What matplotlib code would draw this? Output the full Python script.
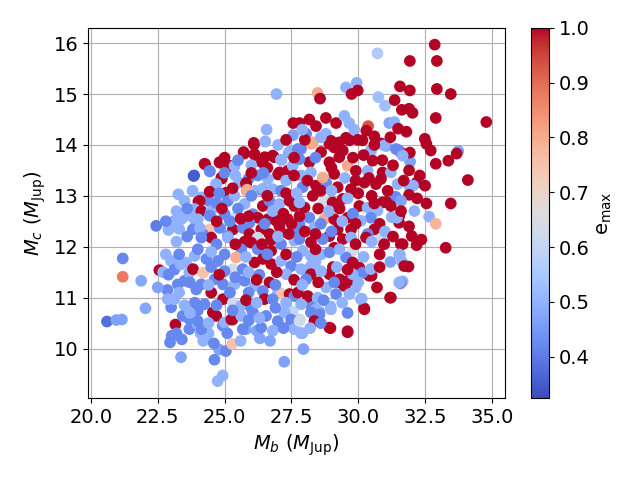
import matplotlib
matplotlib.use("Agg")
import matplotlib.pyplot as plt

# (M_b, M_c, e_max), grouped by region
outer_top = [
    (26.94, 15.0, 0.5), (26.57, 14.30, 0.5), (26.5, 14.06, 0.6), (27.57, 14.43, 1), (27.56, 14.19, 0.47),
    (26.1, 14.01, 1), (25.73, 13.83, 1), (26.13, 13.80, 1), (26.5, 13.76, 1), (26.85, 13.76, 1),
    (27.14, 13.69, 0.58), (27.41, 13.85, 0.42), (24.27, 13.62, 1), (24.83, 13.65, 1), (25.18, 13.59, 1),
    (25.36, 13.57, 0.5), (24.45, 13.48, 0.42), (23.84, 13.39, 0.35), (24.9, 13.34, 1), (24.68, 13.23, 0.5),
    (25.55, 13.26, 0.5), (25.8, 13.24, 1), (25.9, 13.34, 0.42), (23.27, 13.03, 0.5), (24.45, 13.08, 1),
    (24.02, 12.89, 1), (24.12, 12.97, 0.5), (24.4, 12.90, 0.42), (25.05, 13.06, 1), (25.82, 13.10, 0.8),
    (26.13, 13.10, 0.5), (26.42, 13.11, 0.42), (27.0, 13.42, 1),
    (32.86, 15.97, 1), (30.72, 15.80, 0.56), (31.93, 15.65, 1), (32.94, 15.65, 1), (29.94, 15.22, 0.5),
    (29.54, 15.13, 0.5), (28.48, 15.02, 0.8), (28.57, 14.91, 1), (29.75, 15.0, 1), (29.98, 15.07, 1),
    (31.56, 15.15, 1), (31.93, 15.07, 1), (32.94, 15.10, 1), (33.46, 15.0, 1), (30.75, 14.94, 0.53),
    (31.0, 14.77, 0.53), (31.36, 14.88, 1), (31.63, 14.69, 1), (31.9, 14.71, 1), (32.03, 14.63, 1),
    (32.9, 14.53, 1), (34.79, 14.45, 1), (31.16, 14.43, 0.47), (31.35, 14.45, 0.5), (31.49, 14.32, 1),
    (31.8, 14.26, 1), (30.37, 14.37, 0.93), (30.3, 14.28, 1), (30.6, 14.17, 1), (30.85, 14.03, 1),
    (31.05, 13.98, 0.47), (32.49, 14.12, 1), (32.55, 14.02, 1), (32.71, 13.89, 1), (33.74, 13.88, 0.47),
    (33.68, 13.83, 1), (33.37, 13.69, 1), (32.9, 13.63, 1), (31.94, 13.67, 0.47), (31.6, 13.85, 1),
    (31.93, 13.85, 1), (31.5, 13.9, 0.42), (30.5, 13.88, 0.63), (34.1, 13.31, 1), (32.18, 13.26, 1),
    (31.9, 13.2, 0.5), (32.05, 13.2, 0.5), (32.55, 12.85, 1), (33.46, 12.85, 1), (31.9, 13.02, 1),
    (31.4, 12.98, 0.42), (31.05, 12.88, 1),
    (28.17, 14.5, 1), (28.79, 14.53, 1), (27.8, 14.43, 1), (28.42, 14.37, 1), (29.17, 14.43, 1),
    (29.48, 14.57, 0.5), (29.66, 14.43, 0.5), (29.85, 14.3, 0.5), (28.05, 14.22, 0.42), (28.79, 14.22, 0.5),
    (28.98, 14.08, 1), (29.54, 14.14, 1), (29.98, 14.1, 1), (28.24, 14.02, 0.8),
]

outer_bottom = [
    (32.65, 12.59, 0.5), (32.9, 12.45, 0.78), (32.0, 12.21, 1), (32.36, 12.14, 1), (32.18, 12.03, 1),
    (33.27, 11.98, 1), (31.66, 12.05, 1), (30.95, 12.06, 1), (30.87, 12.16, 0.63), (31.56, 11.84, 0.5),
    (31.64, 11.7, 0.5), (31.88, 11.61, 1), (31.66, 11.32, 0.5), (31.58, 11.28, 0.42), (31.19, 11.0, 1),
    (30.22, 10.79, 1), (30.13, 10.98, 0.5), (29.6, 10.32, 1), (28.96, 10.40, 1), (27.95, 9.99, 0.47),
    (27.9, 10.30, 0.47), (27.82, 10.57, 0.63), (28.4, 10.77, 0.42), (28.25, 10.83, 0.42), (28.55, 10.72, 0.47),
    (28.96, 10.83, 0.5), (28.11, 11.02, 1), (30.5, 11.43, 1), (30.47, 11.55, 1), (30.3, 11.48, 0.42),
    (29.95, 11.47, 0.5), (29.9, 11.2, 0.5), (29.6, 11.33, 1), (29.3, 11.36, 1), (29.05, 11.6, 1),
    (31.53, 12.47, 1), (31.53, 12.6, 1), (31.25, 12.58, 0.5), (31.45, 12.57, 0.5),
    (22.44, 12.41, 0.4), (22.9, 12.33, 0.5), (23.1, 12.5, 0.5), (23.4, 12.55, 0.5), (21.19, 11.77, 0.42),
    (21.19, 11.41, 0.88), (21.88, 11.33, 0.48), (22.04, 10.79, 0.48), (20.6, 10.53, 0.38), (20.95, 10.56, 0.47),
    (21.16, 10.57, 0.47), (22.56, 11.54, 1), (23.0, 11.72, 0.5), (23.12, 11.55, 0.42), (22.7, 11.5, 0.5),
    (22.86, 11.15, 0.42), (23.16, 10.47, 1), (22.96, 10.12, 0.42), (23.02, 10.25, 0.42), (23.37, 9.83, 0.47),
    (23.4, 10.18, 0.42), (24.62, 9.78, 0.42), (24.74, 9.36, 0.5), (24.93, 9.47, 0.5), (24.8, 9.98, 0.47),
    (25.05, 9.95, 0.42), (25.28, 10.09, 0.75), (27.23, 9.74, 0.47), (26.32, 10.2, 0.47), (25.8, 10.38, 0.47),
    (26.2, 10.35, 0.47), (25.3, 10.57, 1), (27.45, 10.45, 0.47), (27.55, 10.72, 0.6),
    (23.0, 10.81, 0.42), (23.12, 10.97, 0.5), (23.43, 10.64, 0.42), (23.68, 10.58, 0.42), (23.25, 11.26, 0.42),
    (23.5, 11.33, 0.42), (23.68, 11.49, 0.5), (23.56, 11.69, 0.5), (23.35, 11.65, 0.5), (22.87, 10.97, 0.5),
    (23.93, 12.47, 0.5), (23.81, 12.34, 0.42), (24.18, 12.21, 0.42), (23.75, 12.6, 0.5), (23.68, 10.38, 0.42),
    (24.1, 10.3, 0.5), (24.3, 10.25, 0.5), (24.4, 10.3, 0.5), (23.99, 10.48, 0.5), (24.93, 10.45, 0.42),
]

core_top = [
    (26.09, 14.04, 1), (26.52, 14.07, 0.5), (25.71, 13.86, 1), (26.12, 13.82, 1), (26.39, 13.66, 1),
    (26.8, 13.79, 1), (27.11, 13.71, 0.5), (27.43, 13.87, 0.5), (27.74, 13.92, 0.42), (24.25, 13.63, 1),
    (24.81, 13.66, 1), (25.19, 13.59, 1), (25.37, 13.59, 0.5), (23.86, 13.4, 0.35), (24.44, 13.49, 0.42),
    (24.88, 13.36, 1), (24.69, 13.23, 0.5), (25.81, 13.25, 1), (25.84, 13.12, 0.8), (26.24, 13.4, 0.42),
    (26.62, 13.33, 0.5), (27.05, 13.46, 1), (27.36, 13.49, 1), (27.55, 13.59, 0.5),
    (26.43, 13.14, 0.5), (26.8, 13.13, 0.5), (27.11, 13.1, 0.42), (24.44, 13.08, 1), (24.07, 12.9, 1),
    (23.88, 12.74, 0.5), (24.13, 12.7, 1), (24.5, 12.7, 0.5), (24.69, 12.86, 0.42), (25.12, 12.9, 0.42),
    (25.37, 13.0, 0.5), (25.75, 12.84, 0.5), (26.06, 12.64, 0.42), (26.43, 12.8, 1), (26.68, 12.9, 0.42),
    (27.05, 12.84, 0.5), (27.43, 12.9, 1), (27.61, 12.8, 1), (26.24, 12.57, 1), (26.62, 12.54, 1),
    (26.93, 12.51, 1), (27.36, 12.54, 1), (25.37, 12.57, 0.63), (25.0, 12.64, 0.42), (24.44, 12.61, 0.42),
    (24.0, 12.54, 0.5), (24.44, 12.34, 0.75), (24.2, 12.24, 0.42), (24.82, 12.37, 0.42), (25.31, 12.34, 1),
    (25.68, 12.37, 0.42), (25.93, 12.47, 0.42), (26.37, 12.34, 1), (25.93, 12.25, 1), (26.68, 12.25, 1),
    (27.11, 12.28, 1), (27.61, 12.28, 0.42), (24.07, 12.37, 0.5), (25.12, 12.21, 0.42),
    (28.3, 14.05, 0.8), (27.86, 13.92, 0.42), (28.92, 14.02, 1), (29.29, 14.05, 1), (29.67, 14.09, 1),
    (30.16, 14.09, 1), (30.47, 13.89, 0.5), (30.97, 13.99, 0.5), (31.41, 13.92, 0.42), (31.66, 13.79, 0.5),
    (28.61, 13.86, 1), (28.17, 13.66, 1), (27.8, 13.72, 0.42), (28.92, 13.66, 1), (29.29, 13.76, 1),
    (29.6, 13.59, 0.8), (29.42, 13.89, 1), (29.91, 13.49, 1), (30.35, 13.49, 0.5), (30.54, 13.69, 1),
    (30.91, 13.46, 1), (31.22, 13.46, 0.5), (30.85, 13.33, 1), (30.23, 13.26, 1), (30.66, 13.23, 1),
    (31.47, 13.23, 0.5), (27.86, 13.4, 0.5), (28.23, 13.46, 0.5), (28.42, 13.2, 1), (28.8, 13.26, 0.42),
    (28.67, 13.36, 0.8), (29.1, 13.43, 1), (29.23, 13.17, 1), (29.73, 13.13, 1), (27.92, 13.17, 0.42),
    (28.3, 13.0, 1), (28.73, 12.9, 0.63), (29.04, 12.87, 1), (27.99, 12.77, 1), (27.8, 12.87, 0.5),
    (29.42, 12.94, 1), (30.04, 12.8, 1), (30.35, 12.77, 0.5), (30.91, 12.87, 1), (31.22, 12.8, 1),
    (30.72, 12.71, 0.5), (30.47, 12.57, 0.42), (28.17, 12.57, 0.42), (28.73, 12.54, 0.8), (29.1, 12.54, 1),
    (29.6, 12.57, 1), (30.1, 12.51, 0.5), (27.8, 12.44, 0.42), (28.36, 12.38, 0.5), (29.23, 12.34, 1),
    (29.73, 12.34, 1), (30.6, 12.34, 1), (30.35, 12.25, 0.42), (28.92, 12.21, 1), (30.91, 12.18, 0.63),
]

core_bottom = [
    (24.5, 12.18, 1), (24.13, 12.18, 0.42), (25.12, 12.18, 0.5), (26.24, 12.18, 0.63), (26.74, 12.13, 1),
    (25.75, 12.1, 1), (26.0, 12.08, 1), (25.62, 11.95, 0.42), (26.24, 11.95, 0.42), (26.74, 11.92, 1),
    (27.11, 12.05, 0.42), (27.61, 12.12, 0.5), (23.88, 11.82, 0.5), (23.82, 11.56, 1), (24.2, 11.49, 0.75),
    (24.32, 11.76, 0.42), (24.75, 11.72, 0.42), (25.31, 11.56, 0.63), (25.68, 11.56, 0.42), (26.12, 11.69, 1),
    (26.43, 11.76, 1), (26.74, 11.66, 1), (27.11, 11.72, 0.5), (27.49, 11.62, 0.42), (27.3, 11.46, 0.5),
    (25.43, 11.79, 0.8), (25.0, 11.52, 0.42), (24.63, 11.36, 0.42), (24.5, 11.1, 1), (24.13, 11.26, 0.42),
    (23.94, 11.16, 0.42), (24.94, 11.26, 0.42), (25.37, 11.26, 0.5), (25.75, 11.33, 0.42), (26.12, 11.23, 0.5),
    (26.68, 11.3, 1), (26.43, 11.13, 0.42), (27.0, 11.1, 0.5), (27.12, 11.07, 0.75), (27.43, 11.07, 1),
    (27.61, 11.03, 0.42), (23.88, 10.9, 0.42), (24.25, 10.87, 0.42), (24.94, 10.97, 1), (25.31, 10.9, 0.63),
    (25.62, 10.84, 0.5), (25.99, 10.8, 0.42), (26.49, 10.97, 1), (26.8, 10.97, 0.42), (24.56, 10.71, 1),
    (24.69, 10.64, 1), (24.0, 10.54, 0.42), (25.0, 10.51, 0.5), (25.25, 10.57, 1), (25.62, 10.64, 0.5),
    (26.06, 10.71, 0.42), (26.55, 10.64, 0.42), (26.99, 10.54, 0.42), (27.24, 10.71, 0.5), (27.49, 10.57, 0.42),
    (27.61, 10.38, 0.5), (25.68, 10.38, 0.42), (26.37, 10.41, 0.42), (24.13, 10.38, 0.42),
    (28.23, 12.09, 1), (27.8, 12.15, 0.42), (28.67, 12.15, 0.42), (29.42, 12.15, 1), (29.73, 12.18, 0.5),
    (30.29, 12.18, 1), (30.85, 12.15, 0.63), (30.97, 12.05, 1), (31.59, 12.05, 1), (29.79, 11.92, 0.63),
    (29.1, 11.98, 1), (28.61, 11.85, 0.5), (28.23, 11.82, 0.5), (27.92, 11.92, 0.5), (28.92, 11.89, 0.42),
    (29.54, 11.79, 0.42), (29.79, 11.69, 1), (30.04, 11.59, 1), (30.41, 11.43, 1), (30.16, 11.49, 0.42),
    (30.47, 11.56, 0.5), (29.79, 11.46, 0.5), (31.53, 11.85, 0.5), (31.72, 11.62, 1), (31.53, 11.3, 0.5),
    (28.23, 11.62, 0.5), (27.86, 11.56, 0.5), (28.23, 11.46, 1), (28.92, 11.46, 1), (29.29, 11.3, 1),
    (29.48, 11.23, 1), (28.61, 11.52, 0.5), (28.8, 11.2, 0.5), (29.17, 11.07, 0.42), (29.67, 11.07, 0.5),
    (28.05, 11.36, 0.42), (27.74, 11.1, 1), (28.11, 11.03, 1), (28.48, 11.0, 0.5), (30.1, 10.97, 0.5),
    (31.22, 11.0, 1), (30.23, 10.77, 1), (27.86, 10.87, 0.5), (28.42, 10.77, 0.5), (28.23, 10.71, 0.42),
    (28.55, 10.67, 0.42), (28.98, 10.77, 0.5), (27.8, 10.54, 0.63), (28.36, 10.54, 1), (28.92, 10.41, 1),
    (29.6, 10.34, 1), (27.86, 10.3, 0.5),
]

# points hidden under the overlap in the dense middle, estimated row by row
core_fill = [
    (27.0, 14.0, 0.5), (27.3, 14.1, 1), (28.0, 14.1, 1), (28.6, 14.15, 0.5), (29.1, 13.95, 1),
    (30.6, 14.0, 1), (31.2, 14.15, 1), (27.9, 14.3, 0.5),
    (25.0, 13.75, 1), (25.5, 13.7, 0.42), (26.0, 13.6, 0.5), (26.6, 13.55, 1), (27.6, 13.75, 1),
    (28.4, 13.75, 0.42), (29.0, 13.55, 1), (29.8, 13.75, 1), (30.2, 13.8, 1), (30.9, 13.7, 1),
    (31.3, 13.6, 1), (31.9, 13.5, 1), (32.3, 13.4, 1),
    (25.0, 13.45, 0.42), (25.4, 13.4, 0.5), (26.0, 13.45, 1), (26.45, 13.45, 0.42), (27.3, 13.3, 0.5),
    (27.6, 13.4, 1), (28.1, 13.3, 1), (29.5, 13.35, 0.5), (29.9, 13.3, 1), (30.4, 13.35, 1),
    (31.1, 13.1, 1), (31.7, 13.3, 1), (32.5, 13.2, 1),
    (23.5, 12.9, 0.5), (23.8, 13.1, 0.5), (24.8, 13.05, 0.42), (25.3, 13.15, 1), (26.0, 13.0, 0.42),
    (26.6, 13.0, 1), (27.3, 13.05, 1), (27.7, 13.05, 0.5), (28.6, 13.1, 1), (29.0, 13.1, 0.5),
    (29.6, 12.95, 0.5), (30.0, 13.05, 1), (30.5, 13.0, 1), (31.6, 12.9, 0.47), (32.2, 12.95, 1),
    (23.2, 12.7, 0.5), (23.6, 12.75, 0.42), (24.9, 12.75, 1), (25.5, 12.75, 0.42), (25.9, 12.6, 1),
    (26.8, 12.7, 0.5), (27.2, 12.65, 1), (27.8, 12.6, 1), (28.5, 12.75, 1), (28.9, 12.7, 0.5),
    (29.3, 12.75, 1), (29.8, 12.65, 0.42), (30.6, 12.85, 1), (31.6, 12.7, 1), (32.1, 12.7, 0.5),
    (22.8, 12.5, 0.42), (23.3, 12.35, 0.5), (24.7, 12.5, 1), (25.2, 12.5, 0.42), (25.6, 12.55, 1),
    (26.5, 12.45, 0.42), (27.05, 12.4, 1), (27.5, 12.45, 1), (28.0, 12.3, 1), (28.6, 12.45, 0.42),
    (29.4, 12.5, 0.5), (29.9, 12.45, 1), (30.8, 12.45, 1), (31.0, 12.3, 0.5), (31.9, 12.4, 1),
    (23.2, 12.1, 0.5), (23.6, 12.2, 0.42), (24.7, 12.05, 0.42), (25.4, 12.05, 1), (26.4, 12.05, 1),
    (27.0, 12.2, 0.5), (27.4, 12.25, 1), (28.4, 12.25, 1), (29.0, 12.3, 0.42), (29.9, 12.05, 1),
    (30.5, 12.1, 0.5), (31.3, 12.2, 1),
    (22.8, 11.85, 0.5), (23.3, 11.85, 0.42), (24.0, 11.95, 0.42), (24.5, 11.9, 0.5), (25.0, 11.85, 0.42),
    (25.8, 11.8, 0.5), (26.6, 11.85, 0.42), (27.3, 11.85, 1), (27.7, 11.8, 0.42), (28.4, 11.95, 1),
    (29.3, 11.95, 0.5), (30.2, 11.8, 0.5), (30.8, 11.85, 1), (31.2, 11.7, 0.47),
    (22.9, 11.45, 0.42), (24.5, 11.6, 0.42), (24.8, 11.45, 1), (25.4, 11.4, 0.42), (25.9, 11.5, 0.5),
    (26.3, 11.45, 0.42), (26.95, 11.5, 1), (27.6, 11.35, 1), (28.4, 11.7, 0.5), (29.2, 11.6, 0.5),
    (29.6, 11.55, 1), (30.8, 11.6, 1),
    (22.5, 11.2, 0.47), (23.3, 11.1, 0.5), (23.7, 11.3, 0.42), (24.4, 11.25, 0.5), (25.2, 11.1, 0.42),
    (25.9, 11.1, 0.42), (26.2, 11.35, 1), (26.9, 11.25, 0.42), (27.9, 11.25, 0.5), (28.5, 11.3, 1),
    (29.1, 11.3, 0.42), (30.0, 11.3, 0.5), (30.7, 11.2, 1),
    (23.5, 10.85, 0.5), (24.0, 10.75, 0.42), (24.7, 10.85, 0.42), (25.3, 10.75, 0.42), (25.8, 10.95, 1),
    (26.2, 10.9, 0.5), (26.9, 10.8, 0.42), (27.3, 10.9, 0.5), (28.7, 10.95, 0.42), (29.4, 10.9, 0.5),
    (29.6, 10.7, 0.42),
    (23.2, 10.3, 0.42), (23.7, 10.7, 0.5), (24.4, 10.5, 0.5), (25.1, 10.3, 0.42), (25.9, 10.55, 0.42),
    (26.3, 10.6, 0.5), (26.8, 10.35, 0.5), (27.2, 10.4, 0.42), (28.2, 10.4, 0.5), (28.6, 10.5, 0.42),
    (24.2, 10.15, 0.5), (24.6, 10.1, 0.42), (25.6, 10.15, 0.5), (26.7, 10.15, 0.47),
]

points = outer_top + outer_bottom + core_top + core_bottom + core_fill
mb = [p[0] for p in points]
mc = [p[1] for p in points]
emax = [p[2] for p in points]

fig = plt.figure(figsize=(6.4, 4.8), dpi=100)
ax = fig.add_axes([0.1375, 0.171, 0.652, 0.771])
cax = fig.add_axes([0.83, 0.171, 0.028, 0.771])

sc = ax.scatter(mb, mc, c=emax, cmap="coolwarm", vmin=0.325, vmax=1.0, s=55, zorder=3)
ax.grid(True, zorder=0)
ax.set_axisbelow(True)
ax.set_xlabel(r"$M_b$ ($M_{\rm Jup}$)", fontsize=14)
ax.set_ylabel(r"$M_c$ ($M_{\rm Jup}$)", fontsize=14)
ax.tick_params(labelsize=14)

cb = fig.colorbar(sc, cax=cax)
cb.set_label(r"e$_{\rm max}$", fontsize=14)
cb.ax.tick_params(labelsize=14)

fig.savefig("out.png", dpi=100)
